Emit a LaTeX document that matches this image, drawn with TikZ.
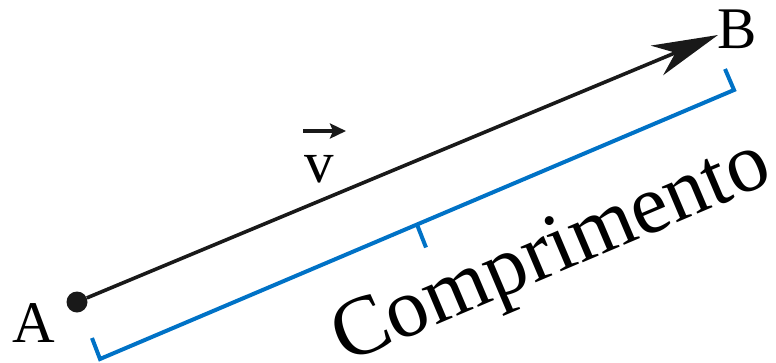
\documentclass[tikz,border=0pt]{standalone}
\usepackage{fontspec}
\setmainfont{Liberation Serif}
\usetikzlibrary{arrows.meta,calc}
\definecolor{rulerBlue}{RGB}{0,114,198}

\begin{document}
\begin{tikzpicture}[x=1pt, y=-1pt,
		ptlabel/.style={inner sep=0pt, anchor=base, font=\fontsize{59}{62}\selectfont},
		vecline/.style={line width=3.6pt, black!90, -{Stealth[length=66pt, width=32pt, inset=20pt]}},
		ruler/.style={line width=4pt, rulerBlue, line join=miter}]
	\useasboundingbox (0,0) rectangle (776,362);
	\node[circle, fill=black!90, inner sep=0pt, minimum size=21pt] (A) at (77,302) {};
	\coordinate (B) at (718,35);
	\draw[vecline] (A) -- (B);
	\node[ptlabel] (labA) at (34,342) {A};
	\node[ptlabel] (labB) at (737,48) {B};
	\node[ptlabel] (labV) at (319,182) {v};
	\coordinate (vl) at (303,131);
	\coordinate (vr) at (346,131);
	\draw[line width=3.8pt, black!90, -{Stealth[length=16pt, width=15pt, inset=3pt]}] (vl) -- (vr);
	\coordinate (rl) at (100,359);
	\coordinate (rr) at (734,90);
	\coordinate (rm) at ($(rl)!0.5!(rr)$);
	\draw[ruler] (92,338) -- (rl) -- (rr) -- (725,69);
	\draw[ruler] (rm) -- ++(9,23);
	\node[rotate=23, anchor=base west, inner sep=0pt, font=\fontsize{84}{90}\selectfont] (len) at (345,364) {Comprimento};
\end{tikzpicture}
\end{document}
